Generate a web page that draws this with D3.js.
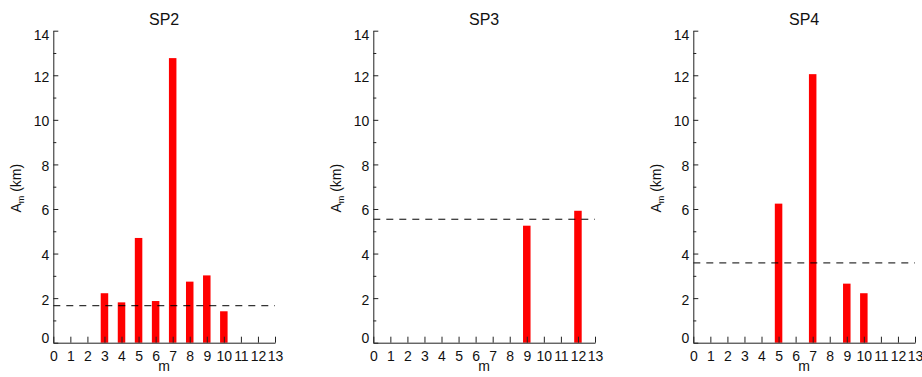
<!DOCTYPE html>
<html>
<head>
<meta charset="utf-8">
<script src="https://cdn.jsdelivr.net/npm/d3@7"></script>
<style>
  body { margin: 0; background: #fff; }
  svg { display: block; font-family: "Liberation Sans", Arial, sans-serif; }
  svg text { fill: #111; }
</style>
</head>
<body>
<svg id="chart" width="922" height="377"></svg>
<script>
// data
const panelNames = ["SP2", "SP3", "SP4"];
const xTicks = d3.range(0, 14);          // m = 0..13
const yMajor = [0, 2, 4, 6, 8, 10, 12, 14];
const yMinor = [1, 3, 5, 7, 9, 11, 13];

const sp2Modes = [3, 4, 5, 6, 7, 8, 9, 10];
const sp2Amp   = [2.22, 1.81, 4.70, 1.87, 12.77, 2.74, 3.02, 1.41];
const sp3Modes = [9, 12];
const sp3Amp   = [5.25, 5.92];
const sp4Modes = [5, 7, 9, 10];
const sp4Amp   = [6.24, 12.05, 2.65, 2.22];
const thresholds = [1.66, 5.54, 3.58];

const panels = [
  { name: panelNames[0], modes: sp2Modes, amp: sp2Amp, thr: thresholds[0] },
  { name: panelNames[1], modes: sp3Modes, amp: sp3Amp, thr: thresholds[1] },
  { name: panelNames[2], modes: sp4Modes, amp: sp4Amp, thr: thresholds[2] },
];

const svg = d3.select('#chart');
svg.append('rect').attr('width', 922).attr('height', 377).attr('fill', '#fff');

const left0 = 53.3, step = 320, plotW = 221.7;
const plotTop = 30.7, plotBottom = 342.7;
const barW = 0.44;
const axisColor = '#222';

const y = d3.scaleLinear().domain([0, 14]).range([plotBottom, plotTop]);

panels.forEach((p, i) => {
  const x0 = left0 + i * step;
  const x = d3.scaleLinear().domain([0, 13]).range([x0, x0 + plotW]);
  const g = svg.append('g');

  // bars
  g.selectAll('rect.bar')
    .data(p.modes.map((m, k) => ({ m, a: p.amp[k] })))
    .join('rect')
    .attr('class', 'bar')
    .attr('x', d => x(d.m - barW / 2))
    .attr('width', x(barW) - x(0))
    .attr('y', d => y(d.a))
    .attr('height', d => y(0) - y(d.a))
    .attr('fill', '#ff0000');

  // threshold line
  g.append('line')
    .attr('x1', x(0)).attr('x2', x(13))
    .attr('y1', y(p.thr)).attr('y2', y(p.thr))
    .attr('stroke', '#000')
    .attr('stroke-width', 1)
    .attr('stroke-dasharray', '7,6');

  // x axis, ticks pointing up
  const xAxis = g.append('g')
    .attr('transform', `translate(0,${plotBottom})`)
    .call(d3.axisBottom(x).tickValues(xTicks).tickSizeInner(-6).tickSizeOuter(0).tickPadding(8));
  xAxis.attr('font-size', null).attr('font-family', null);
  xAxis.selectAll('text').style('font-size', '14px');

  // y axis, major + minor ticks pointing right
  const yAxis = g.append('g')
    .attr('transform', `translate(${x0},0)`)
    .call(d3.axisLeft(y).tickValues(yMajor).tickSizeInner(-5).tickSizeOuter(0).tickPadding(4));
  yAxis.attr('font-size', null).attr('font-family', null);
  yAxis.selectAll('text')
    .style('font-size', '14px')
    .attr('dy', d => d === 0 ? '-0.05em' : d === 14 ? '0.6em' : '0.42em');
  g.append('g')
    .attr('transform', `translate(${x0},0)`)
    .call(d3.axisLeft(y).tickValues(yMinor).tickSizeInner(-3).tickSizeOuter(0).tickFormat(''))
    .select('.domain').remove();

  g.selectAll('.domain, .tick line').attr('stroke', axisColor);

  // title
  g.append('text')
    .attr('x', (x(0) + x(13)) / 2).attr('y', 24.5)
    .attr('text-anchor', 'middle')
    .style('font-size', '16px')
    .text(p.name);

  // x label
  g.append('text')
    .attr('x', (x(0) + x(13)) / 2).attr('y', 371)
    .attr('text-anchor', 'middle')
    .style('font-size', '14px')
    .text('m');

  // y label
  const yl = g.append('text')
    .attr('transform', `translate(${x0 - 32},${(plotTop + plotBottom) / 2 + 1.5}) rotate(-90)`)
    .attr('text-anchor', 'middle')
    .style('font-size', '14px');
  yl.append('tspan').text('A');
  yl.append('tspan').style('font-size', '9px').attr('dy', 3).text('m');
  yl.append('tspan').attr('dy', -3).text(' (km)');
});
</script>
</body>
</html>
